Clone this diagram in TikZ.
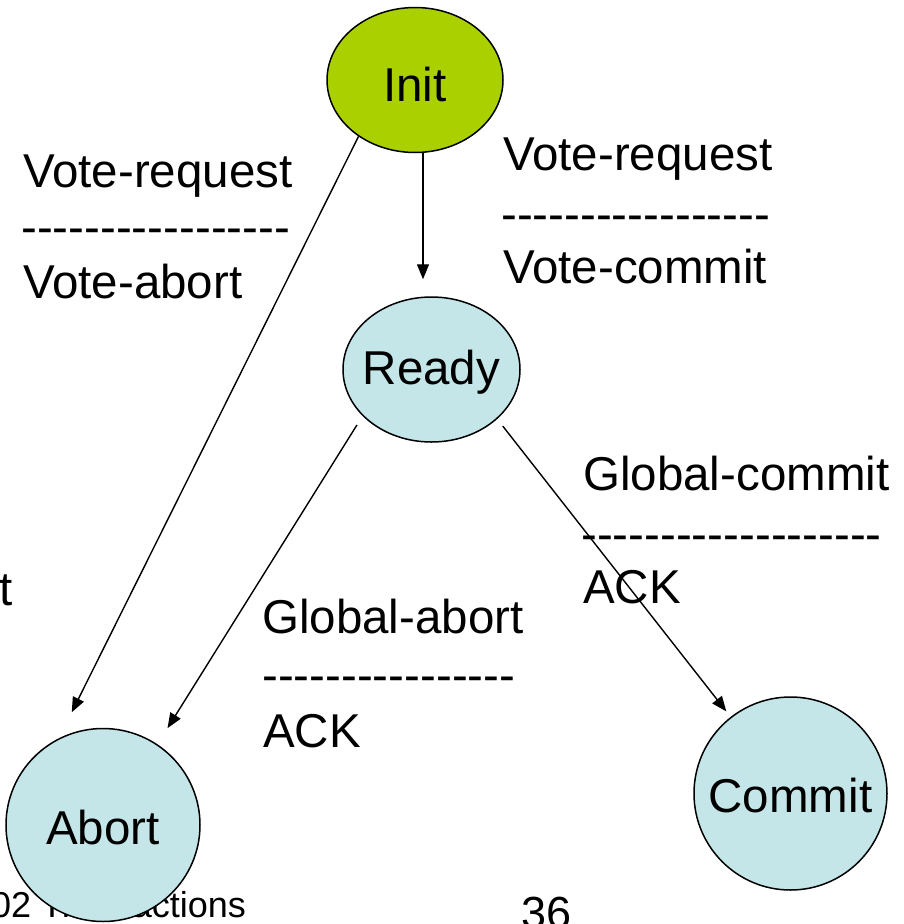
\documentclass[tikz,border=0pt]{standalone}
\usepackage{fontspec}
\setmainfont{Liberation Sans}
% same face without the TeX dash ligatures, for the separator rows
\newfontfamily\dashfont{Liberation Sans}
\usetikzlibrary{shapes.geometric,arrows.meta}

\definecolor{initgreen}{RGB}{170,208,0}
\definecolor{statecyan}{RGB}{196,230,232}

\tikzset{
  lbl/.style={inner sep=0pt, anchor=base west, font=\fontsize{47.5}{57}\selectfont},
  sep/.style={inner sep=0pt, anchor=base west, font=\dashfont\fontsize{47.5}{57}\selectfont},
  stxt/.style={inner sep=0pt, yshift=-2.5pt, font=\fontsize{47.5}{57}\selectfont},
  state/.style={ellipse, draw=black, line width=1.5pt, inner sep=0pt, fill=statecyan},
  arr/.style={line width=1.4pt, -{Triangle[length=15pt,width=12pt]}},
}

\begin{document}
\begin{tikzpicture}[x=1pt,y=-1pt]
\useasboundingbox (0,0) rectangle (903,924);

% footer text, partly hidden behind the Abort state
\node[inner sep=0pt, anchor=base west, font=\fontsize{36}{43}\selectfont] (foot) at (-9,917) {02 Transactions};
\node[inner sep=0pt, anchor=base west, font=\fontsize{45}{54}\selectfont] (page) at (521,928) {36};
\node[lbl] (tcut) at (-1,605) {t};

% states
\node[state, fill=initgreen, minimum width=176pt, minimum height=145pt,
      label={[stxt, yshift=-2pt]center:Init}] (Init) at (415,80) {};
\node[state, minimum width=177pt, minimum height=145pt,
      label={[stxt]center:Ready}] (Ready) at (431.5,369.5) {};
\node[state, minimum width=194pt, minimum height=193pt,
      label={[stxt]center:Abort}] (Abort) at (103,825) {};
\node[state, minimum width=193pt, minimum height=193pt,
      label={[stxt]center:Commit}] (Commit) at (790.5,793.5) {};

% transitions
\draw[arr] ([xshift=8pt]Init.south) -- ([xshift=-8.5pt,yshift=17pt]Ready.north);
\draw[arr, shorten >=29pt] (Init.225) -- (Abort.117.6);
\draw[arr, shorten <=10.5pt, shorten >=19pt] (Ready.214.5) -- (Abort.56.3);
\draw[arr, shorten <=9pt, shorten >=7pt] (Ready.323.6) -- (Commit.128.7);

% transition labels
\node[lbl] (l1a) at (23,187) {Vote-request};
\node[sep] (l1b) at (21,243) {-----------------};
\node[lbl] (l1c) at (23,298) {Vote-abort};

\node[lbl] (l2a) at (503,170) {Vote-request};
\node[sep] (l2b) at (501,230) {-----------------};
\node[lbl] (l2c) at (503,283) {Vote-commit};

\node[lbl] (l3a) at (583,490) {Global-commit};
\node[sep] (l3b) at (581,550) {-------------------};
\node[lbl] (l3c) at (583,603) {ACK};

\node[lbl] (l4a) at (262,633) {Global-abort};
\node[sep] (l4b) at (262,691) {----------------};
\node[lbl] (l4c) at (263,747) {ACK};
\end{tikzpicture}
\end{document}
